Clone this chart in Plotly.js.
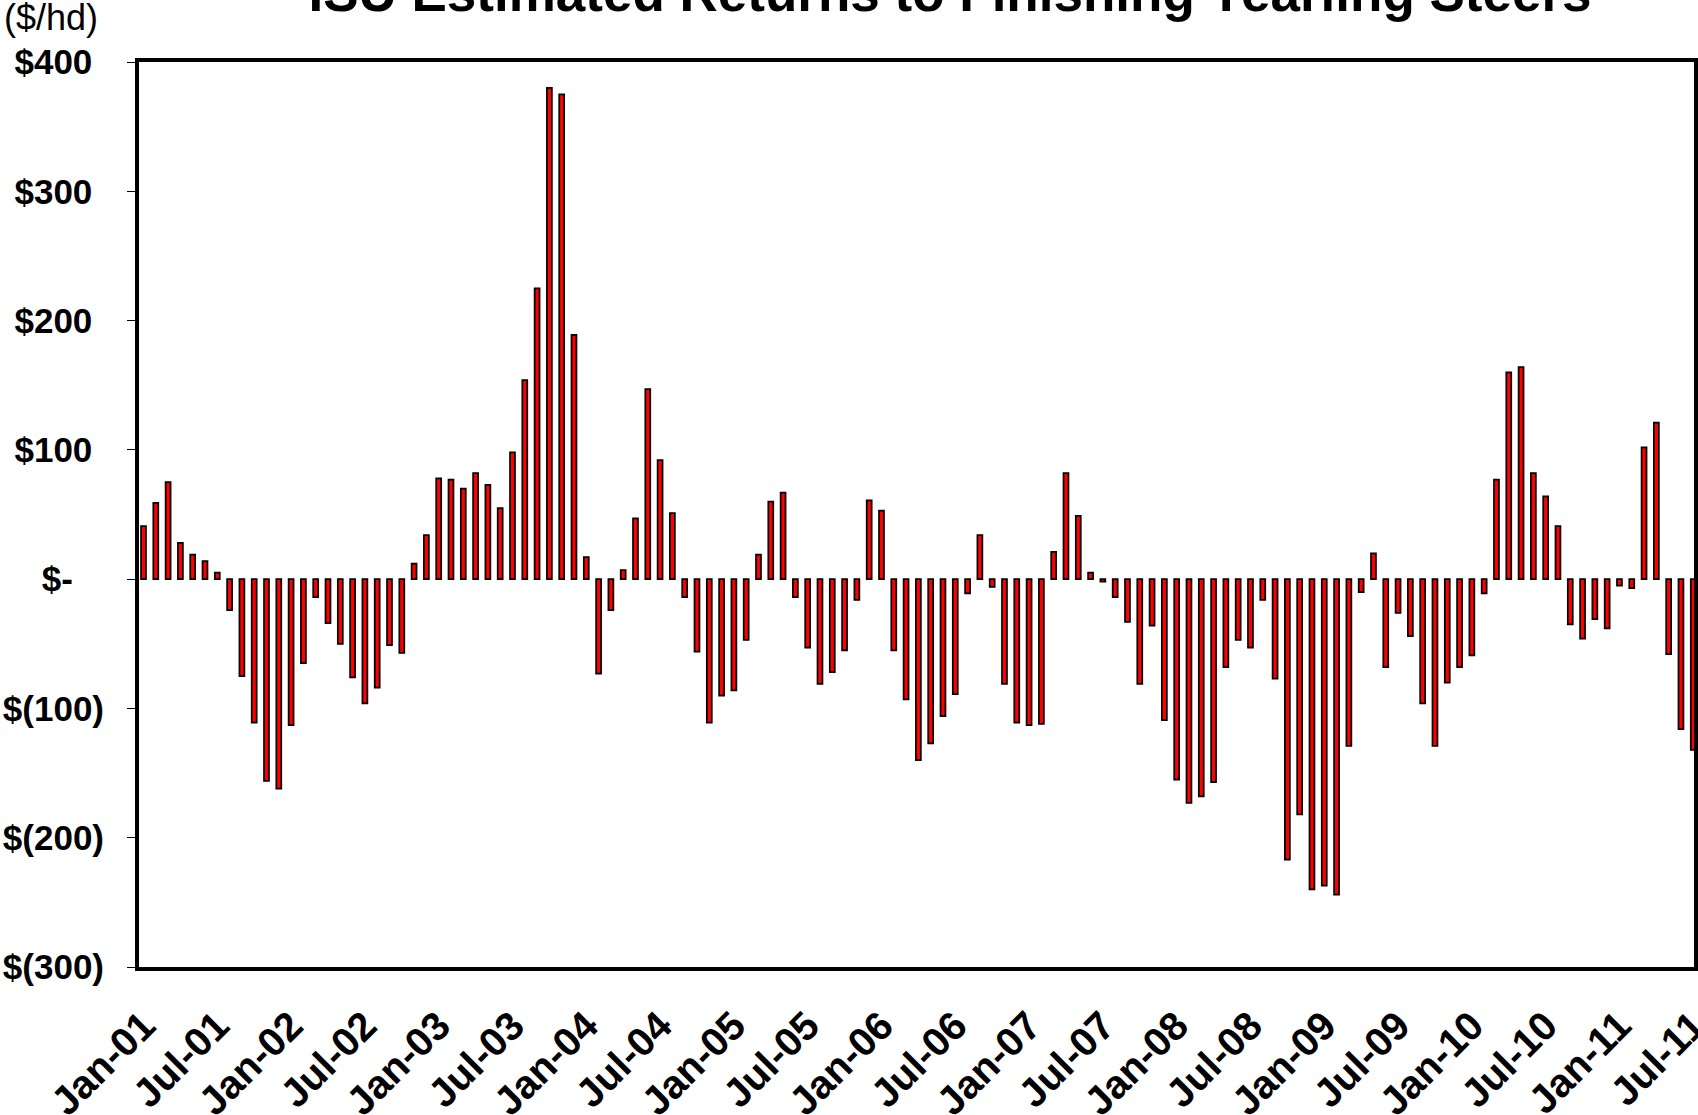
<!DOCTYPE html>
<html>
<head>
<meta charset="utf-8">
<script src="https://cdn.plot.ly/plotly-3.0.1.min.js"></script>
<style>
html, body { margin: 0; padding: 0; background: #ffffff; }
#chart { width: 1698px; height: 1115px; }
</style>
</head>
<body>
<div id="chart"></div>
<script>
// ---- categories ----
const monthNames = ['Jan','Feb','Mar','Apr','May','Jun','Jul','Aug','Sep','Oct','Nov','Dec'];
const yearCodes = ['01','02','03','04','05','06','07','08','09','10','11'];
const months = [];
yearCodes.forEach(function (yy) { monthNames.forEach(function (m) { months.push(m + '-' + yy); }); });
const monthCount = 127; // Jan-01 .. Jul-11
const categories = months.slice(0, monthCount);

// ---- series values ($/hd) ----
const returns = [
  41, 59, 75, 28, 19, 14, 5, -24, -75, -111, -156, -162,
  -113, -65, -14, -34, -50, -76, -96, -84, -51, -57, 12, 34,
  78, 77, 70, 82, 73, 55, 98, 154, 225, 380, 375, 189,
  17, -73, -24, 7, 47, 147, 92, 51, -14, -56, -111, -90,
  -86, -47, 19, 60, 67, -14, -53, -81, -72, -55, -16, 61,
  53, -55, -93, -140, -127, -106, -89, -11, 34, -6, -81, -111,
  -113, -112, 21, 82, 49, 5, -2, -14, -33, -81, -36, -109,
  -155, -173, -168, -157, -68, -47, -53, -16, -77, -217, -182, -240,
  -237, -244, -129, -10, 20, -68, -26, -44, -96, -129, -80, -68,
  -59, -11, 77, 160, 164, 82, 64, 41, -35, -46, -31, -38,
  -5, -7, 102, 121, -58, -116, -132
];

// ---- tick labels ----
const xTickLabels = categories.filter(function (c, i) { return i % 6 === 0; });
const hide = function (s) { return '<span style="color:rgba(0,0,0,0)">' + s + '</span>'; };
const yTickValues = [400, 300, 200, 100, 0, -100, -200, -300];
const yTickLabels = ['$400' + hide(')'), '$300' + hide(')'), '$200' + hide(')'), '$100' + hide(')'),
                     '$-' + hide('0)'), '$(100)', '$(200)', '$(300)'];
const titleText = 'ISU Estimated Returns to Finishing Yearling Steers';
const unitText = '($/hd)';

// tick marks between half-year groups on the zero axis
const boundaryTicks = [];
for (let i = 6; i < categories.length; i += 6) boundaryTicks.push(i - 0.5);

const xRange = [-0.366, 126.06];
const FONT = '"Liberation Sans", Arial, Helvetica, sans-serif';

const trace = {
  type: 'bar',
  x: categories,
  y: returns,
  marker: { color: '#FF0000', line: { color: '#000000', width: 1.75 } },
  hoverinfo: 'skip'
};

const layout = {
  width: 1698,
  height: 1115,
  margin: { l: 139, r: 4, t: 62, b: 148, pad: 0, autoexpand: false },
  paper_bgcolor: '#ffffff',
  plot_bgcolor: '#ffffff',
  font: { family: FONT, color: '#000000' },
  showlegend: false,
  bargap: 0.6,
  title: {
    text: titleText,
    font: { family: FONT, size: 53, weight: 'bold', color: '#000000' },
    xref: 'container', x: 950 / 1698, xanchor: 'center',
    yref: 'container', y: 1 - 11 / 1115, yanchor: 'bottom',
    pad: { t: 0, b: 0, l: 0, r: 0 }
  },
  xaxis: {
    type: 'category',
    range: xRange,
    showline: true, mirror: true, linewidth: 4, linecolor: '#000000',
    ticks: '',
    tickmode: 'array', tickvals: xTickLabels, ticktext: xTickLabels,
    tickangle: -45,
    tickfont: { family: FONT, size: 40, weight: 'bold', color: '#000000' },
    ticklabelstandoff: 15,
    showgrid: false, zeroline: false, automargin: false, fixedrange: true
  },
  xaxis2: {
    type: 'linear',
    overlaying: 'x',
    anchor: 'free',
    position: 300 / 700,
    range: xRange,
    showline: true, linewidth: 1.5, linecolor: '#000000',
    ticks: 'outside', ticklen: 12, tickwidth: 1.5, tickcolor: '#222222',
    tickmode: 'array', tickvals: boundaryTicks,
    showticklabels: false, showgrid: false, zeroline: false, fixedrange: true
  },
  yaxis: {
    range: [-300, 400],
    tickmode: 'array', tickvals: yTickValues, ticktext: yTickLabels,
    showline: true, mirror: true, linewidth: 4, linecolor: '#000000',
    ticks: 'outside', ticklen: 8, tickwidth: 1, tickcolor: '#000000',
    tickfont: { family: FONT, size: 35, weight: 'bold', color: '#000000' },
    ticklabelstandoff: 16,
    showgrid: false, zeroline: false, automargin: false, fixedrange: true
  },
  annotations: [{
    text: unitText,
    xref: 'paper', yref: 'paper',
    x: (2 - 139) / 1555, xanchor: 'left',
    y: 1 + (62 - 39.6) / 905, yanchor: 'bottom',
    showarrow: false,
    font: { family: FONT, size: 36, color: '#000000' }
  }]
};

Plotly.newPlot('chart', [trace], layout, { staticPlot: true, displayModeBar: false });
</script>
</body>
</html>
